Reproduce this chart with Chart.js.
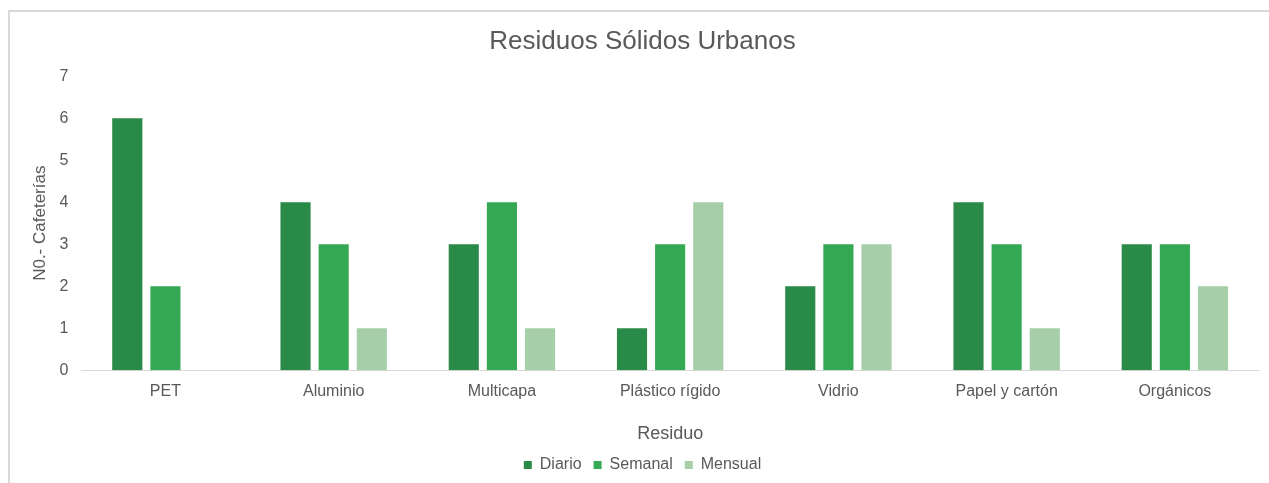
<!DOCTYPE html>
<html>
<head>
<meta charset="utf-8">
<script src="https://cdn.jsdelivr.net/npm/chart.js@4/dist/chart.umd.min.js"></script>
<style>
  body { margin: 0; background: #fff; }
  #wrap {
    position: absolute; left: 8px; top: 10px; width: 1261px; height: 473px;
    border-top: 2px solid #d9d9d9; border-left: 2px solid #d9d9d9; box-sizing: border-box;
  }
</style>
</head>
<body>
<div id="wrap"><canvas id="residuosChart"></canvas></div>
<script>
const categories = ["PET", "Aluminio", "Multicapa", "Plástico rígido", "Vidrio", "Papel y cartón", "Orgánicos"];
const diario = [6, 4, 3, 1, 2, 4, 3];
const semanal = [2, 3, 4, 3, 3, 3, 3];
const mensual = [0, 1, 1, 4, 3, 1, 2];
const yTicks = [0, 1, 2, 3, 4, 5, 6, 7];

const textColor = "#595959";
const font = "'Liberation Sans', Arial, sans-serif";

new Chart(document.getElementById("residuosChart"), {
  type: "bar",
  data: {
    labels: categories,
    datasets: [
      { label: "Diario", data: diario, backgroundColor: "#2a8a47" },
      { label: "Semanal", data: semanal, backgroundColor: "#34a853" },
      { label: "Mensual", data: mensual, backgroundColor: "#a5cea9" },
    ],
  },
  options: {
    responsive: true,
    maintainAspectRatio: false,
    animation: false,
    categoryPercentage: 0.68,
    barPercentage: 0.79,
    layout: { padding: { left: 16, right: 10, top: 10, bottom: 0 } },
    plugins: {
      title: {
        display: true,
        text: "Residuos Sólidos Urbanos",
        color: textColor,
        font: { family: font, size: 26, weight: "normal" },
        padding: { top: 4, bottom: 19 },
      },
      legend: {
        position: "bottom",
        labels: {
          color: textColor,
          font: { family: font, size: 16 },
          boxWidth: 8,
          boxHeight: 8,
          padding: 12,
        },
      },
      tooltip: { enabled: false },
    },
    scales: {
      x: {
        grid: { display: false },
        border: { color: "#d9d9d9", width: 1 },
        ticks: { color: textColor, font: { family: font, size: 16 }, padding: 4 },
        title: {
          display: true, text: "Residuo", color: textColor,
          font: { family: font, size: 18 }, padding: { top: 18, bottom: 0 },
        },
      },
      y: {
        min: yTicks[0],
        max: yTicks[yTicks.length - 1],
        grid: { display: false },
        border: { display: false },
        afterBuildTicks: (axis) => { axis.ticks = yTicks.map((v) => ({ value: v })); },
        ticks: { color: textColor, font: { family: font, size: 16 }, padding: 5 },
        title: {
          display: true, text: "N0.- Cafeterías", color: textColor,
          font: { family: font, size: 17 }, padding: { bottom: 4 },
        },
      },
    },
  },
});
</script>
</body>
</html>
